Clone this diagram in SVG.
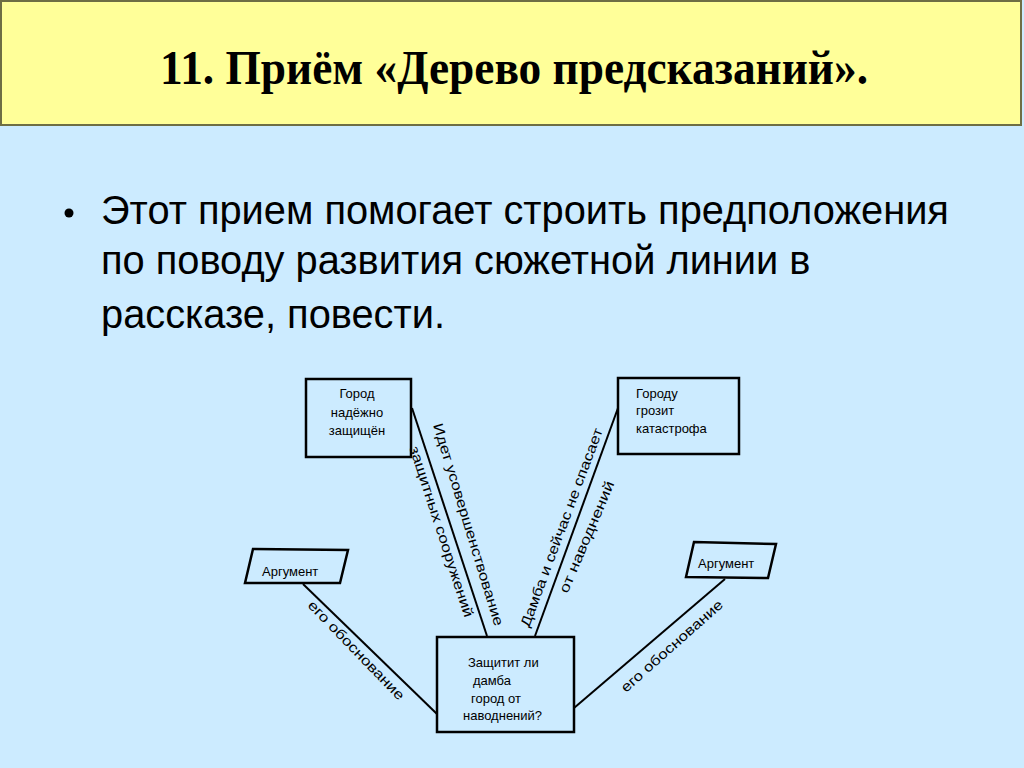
<svg xmlns="http://www.w3.org/2000/svg" width="1024" height="768" viewBox="0 0 1024 768">
<style>
.bg{fill:#CCEBFF}
.hdr{fill:#FFFF99;stroke:#6E6E44;stroke-width:2}
.title{font-family:"Liberation Serif",serif;font-weight:bold;font-size:48px;fill:#000}
.body{font-family:"Liberation Sans",Arial,sans-serif;font-size:39.8px;fill:#000}
.box{fill:none;stroke:#000;stroke-width:2.5}
.t{font-family:"Liberation Sans",Arial,sans-serif;font-size:13px;fill:#000}
.lbl{font-family:"Liberation Sans",Arial,sans-serif;font-size:14px;fill:#000}
.ln{stroke:#000;stroke-width:2;fill:none}
</style>
<rect class="bg" x="0" y="0" width="1024" height="768"/>
<rect class="hdr" x="1" y="1" width="1020" height="124"/>
<text class="title" x="160" y="84" textLength="708" lengthAdjust="spacingAndGlyphs">11. Приём «Дерево предсказаний».</text>
<circle cx="69" cy="213" r="4.5" fill="#000"/>
<text class="body" x="101" y="224">Этот прием помогает строить предположения</text>
<text class="body" x="101" y="274">по поводу развития сюжетной линии в</text>
<text class="body" x="101" y="328">рассказе, повести.</text>

<g id="connectors">
<line class="ln" x1="412" y1="408" x2="487" y2="636"/>
<line class="ln" x1="618" y1="408" x2="535" y2="636"/>
<line class="ln" x1="303" y1="584" x2="437" y2="714"/>
<line class="ln" x1="725" y1="579" x2="574" y2="708"/>
<text class="lbl" transform="translate(433,425) rotate(73)" x="0" y="0" textLength="211" lengthAdjust="spacingAndGlyphs">Идет усовершенствование</text>
<text class="lbl" transform="translate(415,446) rotate(72)" x="0" y="6" textLength="179" lengthAdjust="spacingAndGlyphs">защитных сооружений</text>
<text class="lbl" transform="translate(529,628) rotate(-69.5)" x="0" y="0" textLength="211" lengthAdjust="spacingAndGlyphs">Дамба и сейчас не спасает</text>
<text class="lbl" transform="translate(563,592) rotate(-67)" x="0" y="5" textLength="120" lengthAdjust="spacingAndGlyphs">от наводнений</text>
<text class="lbl" transform="translate(307,606) rotate(46)" x="0" y="0" textLength="132" lengthAdjust="spacingAndGlyphs">его обоснование</text>
<text class="lbl" transform="translate(626,693) rotate(-41.6)" x="0" y="0" textLength="131" lengthAdjust="spacingAndGlyphs">его обоснование</text>
</g>

<g id="node-protected">
<rect class="box" x="306" y="379" width="105" height="78"/>
<text class="t" x="357" y="398" text-anchor="middle">Город</text>
<text class="t" x="357" y="417" text-anchor="middle">надёжно</text>
<text class="t" x="357" y="435" text-anchor="middle">защищён</text>
</g>
<g id="node-threat">
<rect class="box" x="618" y="378" width="121" height="76"/>
<text class="t" x="636" y="398">Городу</text>
<text class="t" x="636" y="415">грозит</text>
<text class="t" x="636" y="433">катастрофа</text>
</g>
<g id="node-arg-left">
<polygon class="box" points="253,549 348,550 340,583 245,583"/>
<text class="t" x="262" y="576">Аргумент</text>
</g>
<g id="node-arg-right">
<polygon class="box" points="694,542 776,544 768,578 686,577"/>
<text class="t" x="698" y="568">Аргумент</text>
</g>
<g id="node-center">
<rect class="box" x="437" y="637" width="137" height="95"/>
<text class="t" x="468" y="667">Защитит ли</text>
<text class="t" x="473" y="685">дамба</text>
<text class="t" x="471" y="703">город от</text>
<text class="t" x="463" y="720">наводнений?</text>
</g>
</svg>
